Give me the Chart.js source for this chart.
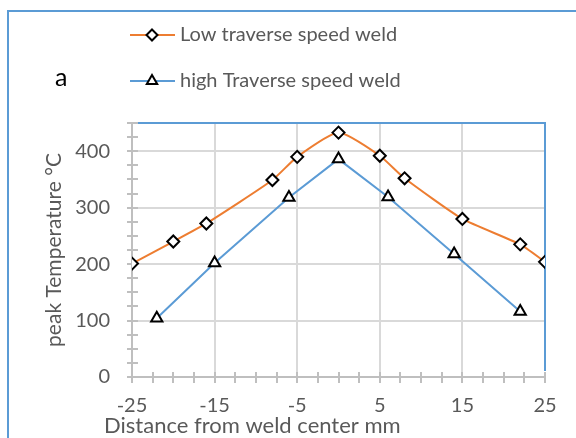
<!DOCTYPE html>
<html>
<head>
<meta charset="utf-8">
<script src="https://cdn.jsdelivr.net/npm/chart.js@4.4.1/dist/chart.umd.min.js"></script>
<style>
  html, body { margin: 0; padding: 0; background: #ffffff; overflow: hidden; }
  #wrap { position: relative; width: 576px; height: 438px; }
  #frame { position: absolute; left: 7px; top: 10px; width: 700px; height: 600px;
           border-left: 2px solid #5B9BD5; border-top: 2px solid #5B9BD5; box-sizing: border-box; }
  canvas { position: absolute; left: 0; top: 0; }
</style>
</head>
<body>
<div id="wrap">
  <div id="frame"></div>
  <canvas id="c" width="576" height="438"></canvas>
</div>
<script>
// ---- data ----
const lowDistance = [-25, -20, -16, -8, -5, 0, 5, 8, 15, 22, 25];
const lowTemp     = [201, 240, 272, 349, 390, 433, 392, 352, 280, 235, 204];
const highDistance = [-22, -15, -6, 0, 6, 14, 22];
const highTemp     = [104, 202, 318, 386, 319, 218, 116];
const seriesNames = ['Low traverse speed weld', 'high Traverse speed weld'];
const xTickLabels = [-25, -15, -5, 5, 15, 25];
const yTickLabels = [0, 100, 200, 300, 400];
const xTitle = 'Distance from weld center mm';
const yTitle = 'peak Temperature \u00B0C';
const panelLabel = 'a';

const ORANGE = '#ED7D31', BLUE = '#5B9BD5', GREY_TEXT = '#595959';
const FONT = 'Lato';

function pts(xs, ys) { return xs.map((x, i) => ({ x: x, y: ys[i] })); }

const extras = {
  id: 'extras',
  beforeDatasetsDraw(chart) {
    const ctx = chart.ctx;
    const a = chart.chartArea;
    const xs = chart.scales.x, ys = chart.scales.y;
    ctx.save();
    // plot border (top + right) in blue
    ctx.strokeStyle = BLUE; ctx.lineWidth = 2;
    ctx.beginPath();
    ctx.moveTo(a.left + 6, a.top); ctx.lineTo(a.right, a.top); ctx.lineTo(a.right, a.bottom - 6);
    ctx.stroke();
    // cross tick marks
    ctx.strokeStyle = '#BFBFBF'; ctx.lineWidth = 2;
    ctx.beginPath();
    xs.ticks.forEach(t => {
      const px = Math.round(xs.getPixelForValue(t.value));
      ctx.moveTo(px, a.bottom - 5); ctx.lineTo(px, a.bottom + 6);
    });
    ys.ticks.forEach(t => {
      const py = Math.round(ys.getPixelForValue(t.value));
      ctx.moveTo(a.left - 5, py); ctx.lineTo(a.left + 6, py);
    });
    ctx.stroke();
    ctx.restore();
  },
  afterDraw(chart) {
    const ctx = chart.ctx;
    ctx.save();
    // x axis title
    ctx.fillStyle = GREY_TEXT;
    ctx.font = '22px ' + FONT;
    ctx.textAlign = 'left'; ctx.textBaseline = 'alphabetic';
    ctx.fillText(xTitle, 104, 433);
    // panel label
    ctx.fillStyle = '#000000';
    ctx.font = '25px ' + FONT;
    ctx.fillText(panelLabel, 55, 86);
    // legend
    const rows = [35, 81];
    chart.data.datasets.forEach((ds, i) => {
      const y = rows[i];
      ctx.strokeStyle = ds.borderColor; ctx.lineWidth = 2;
      ctx.beginPath(); ctx.moveTo(130, y); ctx.lineTo(175, y); ctx.stroke();
      ctx.lineWidth = 2; ctx.strokeStyle = '#000'; ctx.fillStyle = '#fff';
      ctx.beginPath();
      const cx = 152;
      if (ds.pointStyle === 'rectRot') {
        const r = 5.5;
        ctx.moveTo(cx, y - r); ctx.lineTo(cx + r, y); ctx.lineTo(cx, y + r); ctx.lineTo(cx - r, y);
      } else {
        const r = 6;
        ctx.moveTo(cx, y - r); ctx.lineTo(cx + r * 0.866, y + r * 0.5); ctx.lineTo(cx - r * 0.866, y + r * 0.5);
      }
      ctx.closePath(); ctx.fill(); ctx.stroke();
      ctx.fillStyle = GREY_TEXT;
      ctx.font = '20px ' + FONT;
      ctx.textBaseline = 'middle';
      ctx.fillText(ds.label, 180, y);
    });
    ctx.restore();
  }
};

new Chart(document.getElementById('c'), {
  type: 'line',
  data: {
    datasets: [
      {
        label: seriesNames[0],
        data: pts(lowDistance, lowTemp),
        borderColor: ORANGE, borderWidth: 2, tension: 0.18,
        pointStyle: 'rectRot', pointRadius: 6, pointBorderWidth: 2,
        pointBorderColor: '#000', pointBackgroundColor: '#fff', fill: false
      },
      {
        label: seriesNames[1],
        data: pts(highDistance, highTemp),
        borderColor: BLUE, borderWidth: 2, tension: 0,
        pointStyle: 'triangle', pointRadius: 6.5, pointBorderWidth: 2,
        pointBorderColor: '#000', pointBackgroundColor: '#fff', fill: false
      }
    ]
  },
  options: {
    responsive: false,
    animation: false,
    layout: { padding: { top: 123, right: 31, bottom: 0, left: 0 } },
    plugins: { legend: { display: false }, tooltip: { enabled: false }, title: { display: false } },
    scales: {
      x: {
        type: 'linear', min: -25, max: 25,
        afterFit(s) { s.height = 61; },
        ticks: {
          stepSize: 2.5, autoSkip: false, maxRotation: 0, padding: 17,
          color: GREY_TEXT, font: { family: FONT, size: 20 },
          callback: v => xTickLabels.includes(v) ? String(v) : ''
        },
        grid: {
          drawTicks: false, lineWidth: 2,
          color: c => (c.tick && xTickLabels.includes(c.tick.value) && c.tick.value !== -25 && c.tick.value !== 25) ? '#D9D9D9' : 'rgba(0,0,0,0)'
        },
        border: { display: true, color: '#BFBFBF', width: 2 }
      },
      y: {
        type: 'linear', min: 0, max: 450,
        afterFit(s) { s.width = 132; },
        ticks: {
          stepSize: 25, autoSkip: false, padding: 22,
          color: GREY_TEXT, font: { family: FONT, size: 20 },
          callback: v => yTickLabels.includes(v) ? String(v) : ''
        },
        grid: {
          drawTicks: false, lineWidth: 2,
          color: c => (c.tick && yTickLabels.includes(c.tick.value) && c.tick.value !== 0) ? '#D9D9D9' : 'rgba(0,0,0,0)'
        },
        border: { display: true, color: '#BFBFBF', width: 2 },
        title: {
          display: true, text: yTitle, color: GREY_TEXT,
          font: { family: FONT, size: 21 }, padding: { top: 42, bottom: 0 }
        }
      }
    }
  },
  plugins: [extras]
});
</script>
</body>
</html>
